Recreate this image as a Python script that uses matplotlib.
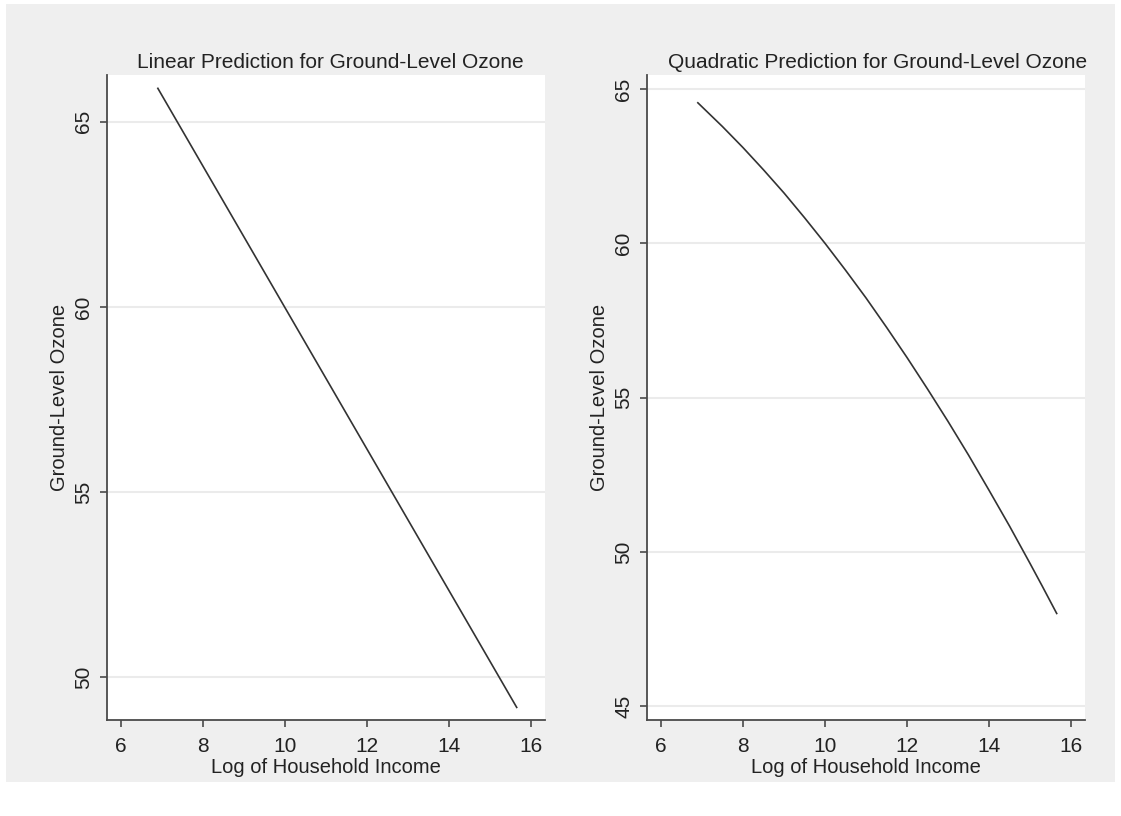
import matplotlib
matplotlib.use("Agg")
import matplotlib.pyplot as plt
from matplotlib.patches import Rectangle

plt.rcParams["font.family"] = ["Liberation Sans", "DejaVu Sans"]

# linear fit: predicted ozone at the ends of the income range
lin_x = [6.9, 15.65]
lin_y = [65.9, 49.19]

# quadratic fit: predicted ozone
quad_x = [6.9, 7.5, 8, 8.5, 9, 9.5, 10, 10.5, 11, 11.5, 12, 12.5,
          13, 13.5, 14, 14.5, 15, 15.3, 15.65]
quad_y = [64.55, 63.78, 63.10, 62.38, 61.63, 60.83, 60.0, 59.13, 58.23, 57.28,
          56.30, 55.28, 54.23, 53.14, 52.0, 50.84, 49.63, 48.89, 48.01]

lin_yticks = [50, 55, 60, 65]
quad_yticks = [45, 50, 55, 60, 65]
xticks = [6, 8, 10, 12, 14, 16]

titles = ["Linear Prediction for Ground-Level Ozone",
          "Quadratic Prediction for Ground-Level Ozone"]
xlab = "Log of Household Income"
ylab = "Ground-Level Ozone"

W, H = 1121, 816
fig = plt.figure(figsize=(W / 100, H / 100), dpi=100)
fig.patch.set_facecolor("white")

# gray graph region
fig.patches.append(Rectangle((6 / W, (H - 782) / H), (1115 - 6) / W, (782 - 4) / H,
                             transform=fig.transFigure, facecolor="#efefef",
                             edgecolor="none", zorder=-10))

ax1 = fig.add_axes([107 / W, (H - 720) / H, 438 / W, 645 / H])
ax2 = fig.add_axes([647 / W, (H - 720) / H, 438 / W, 645 / H])

spine_col = "#4a4a4a"
text_col = "#222222"

def style(ax, yticks, ylim, title, tx):
    ax.set_facecolor("white")
    for s in ["top", "right"]:
        ax.spines[s].set_visible(False)
    for s in ["left", "bottom"]:
        ax.spines[s].set_color(spine_col)
        ax.spines[s].set_linewidth(1.3)
    ax.set_xlim(5.66, 16.34)
    ax.set_ylim(*ylim)
    ax.set_xticks(xticks)
    ax.set_yticks(yticks)
    ax.yaxis.grid(True, color="#ebebeb", linewidth=1.5)
    ax.set_axisbelow(True)
    ax.tick_params(direction="out", length=5, width=1.2, color=spine_col,
                   labelsize=15, labelcolor=text_col)
    ax.tick_params(axis="x", pad=7)
    ax.tick_params(axis="y", labelrotation=90, pad=5)
    for lbl in ax.get_yticklabels():
        lbl.set_va("center")
    ax.set_xlabel(xlab, fontsize=14.5, color=text_col, labelpad=2)
    ax.set_ylabel(ylab, fontsize=14.5, color=text_col, labelpad=4)
    ax.set_title(title, fontsize=15, color=text_col, pad=5, x=tx)

ax1.plot(lin_x, lin_y, color="#333333", linewidth=1.2)
style(ax1, lin_yticks, (48.85, 66.26), titles[0], 0.51)

ax2.plot(quad_x, quad_y, color="#333333", linewidth=1.2)
style(ax2, quad_yticks, (44.56, 65.45), titles[1], 0.526)

fig.savefig("out.png", dpi=100, facecolor=fig.get_facecolor())
